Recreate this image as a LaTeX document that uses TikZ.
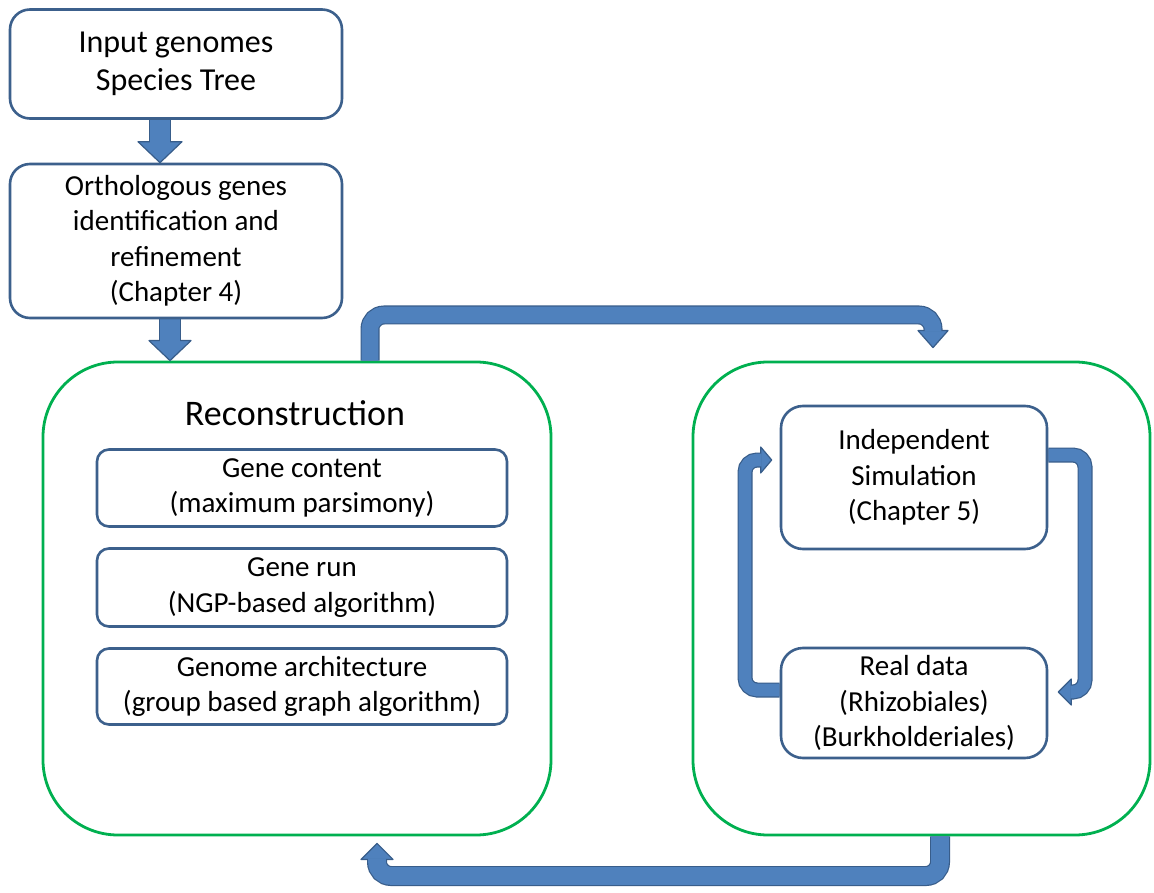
\documentclass[tikz,border=0pt]{standalone}
\usepackage{fontspec}
\setmainfont{Carlito}
\definecolor{arrfill}{RGB}{79,129,189}
\definecolor{arrline}{RGB}{56,93,138}
\definecolor{boxline}{RGB}{60,96,140}
\definecolor{grn}{RGB}{0,176,80}
\pgfdeclarelayer{back}
\pgfdeclarelayer{mid}
\pgfsetlayers{back,mid,main}
\tikzset{
  bluebox/.style={draw=boxline, line width=2.6pt, fill=white, rounded corners=#1,
    align=center, inner sep=0pt, font=\fontsize{29}{35.5}\selectfont},
  greenbox/.style={draw=grn, line width=2.8pt, fill=white, rounded corners=75pt},
  shaftO/.style={draw=arrline, line width=#1},
  shaftI/.style={draw=arrfill, line width=#1},
  arrhead/.style={fill=arrfill, draw=arrline, line width=1.2pt, line join=round}
}
\begin{document}
\begin{tikzpicture}[x=1pt,y=-1pt]
\useasboundingbox (0,0) rectangle (1154,893);

% page background and large green panels
\begin{pgfonlayer}{back}
\fill[white] (0,0) rectangle (1154,893);
\node[greenbox, minimum width=508pt, minimum height=473pt] (recon) at (297,598.5) {};
\node[greenbox, minimum width=457pt, minimum height=473pt] (rg) at (921.5,598.5) {};
\end{pgfonlayer}

% process boxes
\node[bluebox=20pt, minimum width=332pt, minimum height=109pt,
      font=\fontsize{32}{38.5}\selectfont] (in) at (176,64) {Input genomes\\Species Tree};
\node[bluebox=20pt, minimum width=332pt, minimum height=154pt] (orth) at (176,241)
  {Orthologous genes\\identification and\\refinement\\(Chapter 4)};
\node[font=\fontsize{36}{43}\selectfont, inner sep=0pt] (rtitle) at (295,413) {Reconstruction};
\node[bluebox=12pt, minimum width=410pt, minimum height=77pt] (gc) at (302,488)
  {Gene content\\(maximum parsimony)};
\node[bluebox=12pt, minimum width=410pt, minimum height=78pt] (gr) at (302,587.5)
  {Gene run\\(NGP-based algorithm)};
\node[bluebox=12pt, minimum width=410pt, minimum height=76pt] (ga) at (302,686.5)
  {Genome architecture\\(group based graph algorithm)};
\node[bluebox=22pt, minimum width=266pt, minimum height=143pt] (sim) at (914,477.5)
  {Independent\\Simulation\\(Chapter 5)};
\node[bluebox=22pt, minimum width=266pt, minimum height=110pt] (real) at (914,703)
  {Real data\\(Rhizobiales)\\(Burkholderiales)};

% block arrows
\begin{pgfonlayer}{mid}
% input -> orthologous
\coordinate (a1s) at ([xshift=-16pt]in.south);
\coordinate (a1t) at ([xshift=-16pt]orth.north);
\draw[shaftO=22pt] (a1s) -- ([yshift=21pt]a1t);
\filldraw[arrhead] (a1t) -- ++(-22,-21) -- ++(44,0) -- cycle;
\draw[shaftI=19.6pt] (a1s) -- ([yshift=20pt]a1t);

% orthologous -> reconstruction
\coordinate (a2s) at ([xshift=-6pt]orth.south);
\coordinate (a2t) at (a2s |- recon.north);
\draw[shaftO=22pt] (a2s) -- ([yshift=20pt]a2t);
\filldraw[arrhead] (a2t) -- ++(-21,-20) -- ++(42,0) -- cycle;
\draw[shaftI=19.6pt] (a2s) -- ([yshift=19pt]a2t);

% reconstruction -> validation panel
\coordinate (b1s) at ([xshift=73pt]recon.north);
\coordinate (b1t) at ([xshift=11.5pt,yshift=13pt]rg.north);
\coordinate (b1c) at (933,315);
\draw[shaftO=19pt, rounded corners=14pt] (b1s) |- (b1c) -- ([yshift=17pt]b1t);
\filldraw[arrhead] (b1t) -- ++(-15,-17) -- ++(30,0) -- cycle;
\draw[shaftI=16.6pt, rounded corners=14pt] (b1s) |- (b1c) -- ([yshift=16pt]b1t);

% validation panel -> reconstruction
\coordinate (b2s) at ([xshift=18.5pt]rg.south);
\coordinate (b2t) at ([xshift=80pt,yshift=-7pt]recon.south);
\coordinate (b2c) at (377,876);
\draw[shaftO=20pt, rounded corners=14pt] (b2s) |- (b2c) -- ([yshift=-16pt]b2t);
\filldraw[arrhead] (b2t) -- ++(-16,16) -- ++(32,0) -- cycle;
\draw[shaftI=17.6pt, rounded corners=14pt] (b2s) |- (b2c) -- ([yshift=-15pt]b2t);

% simulation -> real data
\coordinate (c1s) at ([yshift=22.5pt]sim.east);
\coordinate (c1t) at ([xshift=10pt,yshift=11pt]real.east);
\coordinate (c1c) at (1085,692);
\draw[shaftO=15pt, rounded corners=12pt] (c1s) -| (c1c) -- ([xshift=13pt]c1t);
\filldraw[arrhead] (c1t) -- ++(13,-13) -- ++(0,26) -- cycle;
\draw[shaftI=12.6pt, rounded corners=12pt] (c1s) -| (c1c) -- ([xshift=12pt]c1t);

% real data -> simulation
\coordinate (c2s) at ([yshift=13pt]real.west);
\coordinate (c2t) at ([xshift=-8pt,yshift=17.5pt]sim.west);
\coordinate (c2c) at (745,460);
\draw[shaftO=15pt, rounded corners=12pt] (c2s) -| (c2c) -- ([xshift=-11pt]c2t);
\filldraw[arrhead] (c2t) -- ++(-11,-13) -- ++(0,26) -- cycle;
\draw[shaftI=12.6pt, rounded corners=12pt] (c2s) -| (c2c) -- ([xshift=-10pt]c2t);
\end{pgfonlayer}
\end{tikzpicture}
\end{document}
